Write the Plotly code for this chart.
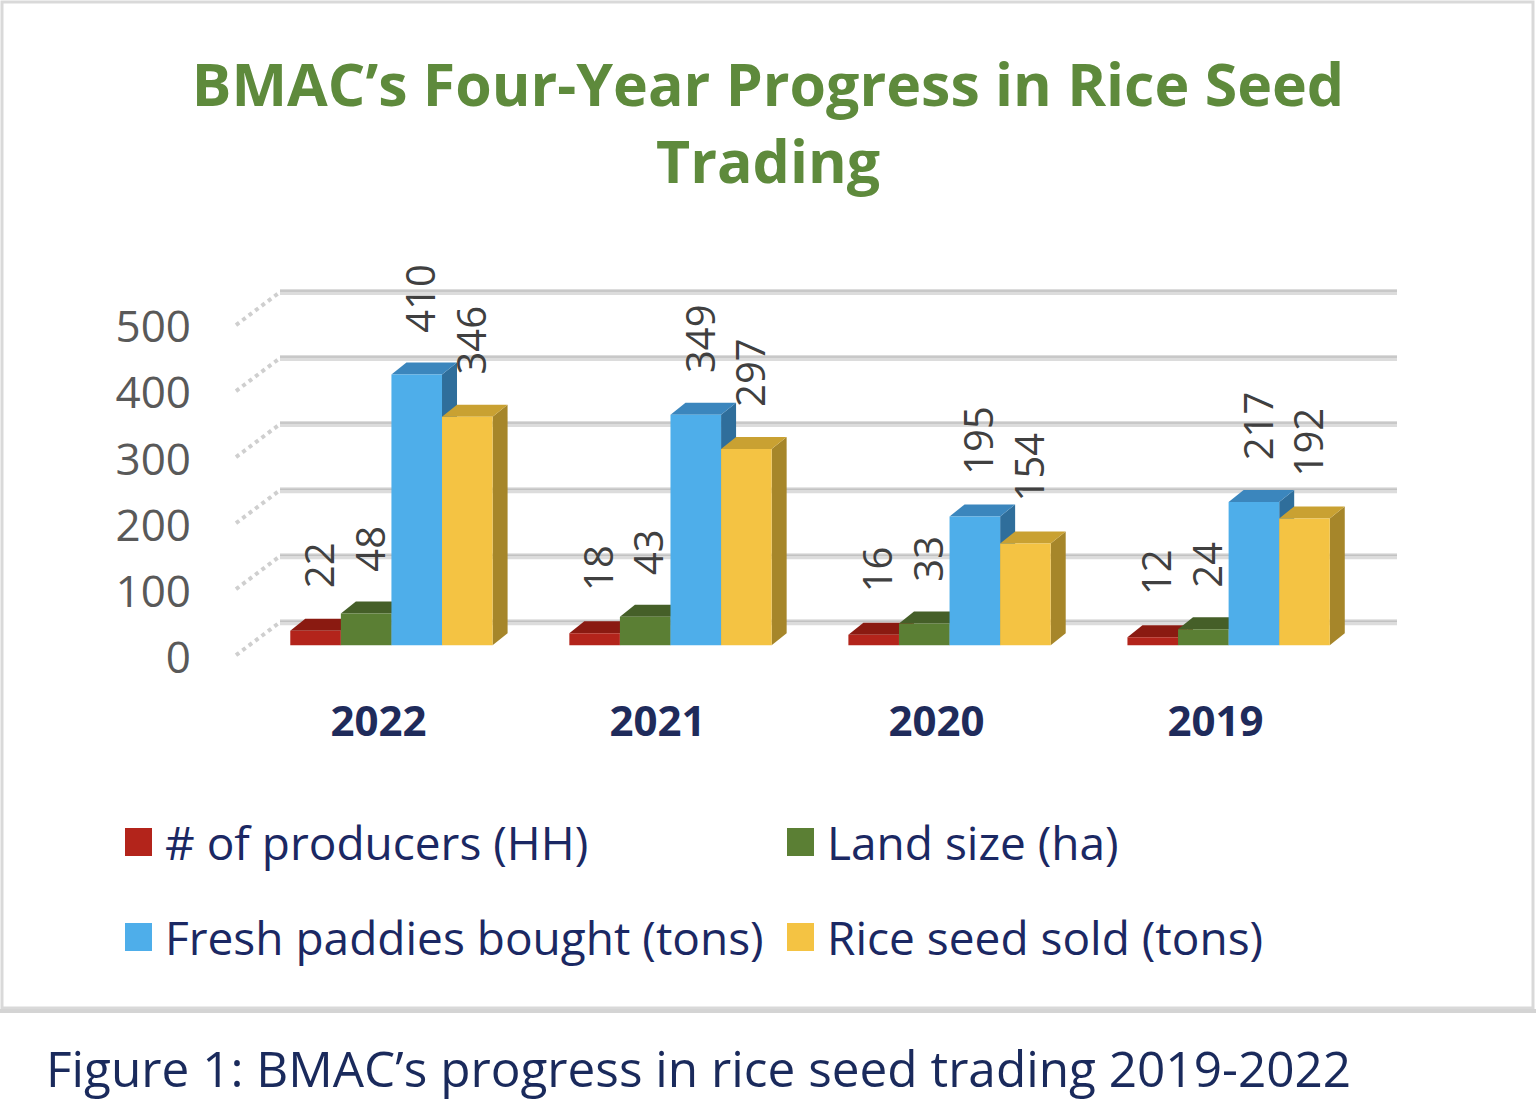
import plotly.graph_objects as go

# ---------------- data ----------------
categories = ["2022", "2021", "2020", "2019"]
series_names = ["# of producers (HH)", "Land size (ha)",
                "Fresh paddies bought (tons)", "Rice seed sold (tons)"]
producers = [22, 18, 16, 12]
land_size = [48, 43, 33, 24]
fresh_paddies = [410, 349, 195, 217]
rice_seed = [346, 297, 154, 192]
y_ticks = [0, 100, 200, 300, 400, 500]

series_values = [producers, land_size, fresh_paddies, rice_seed]

# ---------------- style ----------------
front_colors = ["#b3241b", "#5b7f34", "#4eaeea", "#f4c343"]
top_colors = ["#8a1a11", "#455f28", "#3b86bd", "#c9a132"]
side_colors = ["#7a160f", "#3b5322", "#2f6e9b", "#a6862a"]
FONT = "Open Sans"

W, H = 1536, 1106
L, R, T, B = 224, 126, 249, 441
XR = [-0.6, 3.65]
YR = [-30, 600]
PW = W - L - R
PH = H - T - B
BARGAP = 0.275
NS = len(series_values)
BW = (1 - BARGAP) / NS


def xd(px):
    return XR[0] + (px - L) / PW * (XR[1] - XR[0])


def dxd(dpx):
    return dpx / PW * (XR[1] - XR[0])


def dyd(dpx):
    return dpx / PH * (YR[1] - YR[0])


def xp(px):
    return (px - L) / PW


def yp(py):
    return (H - B - py) / PH


DX = dxd(15)
DY = dyd(12)
xs = list(range(len(categories)))

fig = go.Figure()
for j, (name, vals) in enumerate(zip(series_names, series_values)):
    fig.add_trace(go.Bar(
        x=xs, y=vals, name=name,
        marker=dict(color=front_colors[j], line=dict(width=0)),
        showlegend=False, hoverinfo="x+y+name",
    ))

shapes = []
# back wall gridlines + floor diagonals
for v in y_ticks:
    yb = v + dyd(23)
    shapes.append(dict(type="line", xref="x", yref="y", layer="below",
                       x0=xd(280), x1=xd(1397), y0=yb, y1=yb,
                       line=dict(color="#dcdcdc", width=6)))
    shapes.append(dict(type="line", xref="x", yref="y", layer="below",
                       x0=xd(280), x1=xd(1397), y0=yb + dyd(1), y1=yb + dyd(1),
                       line=dict(color="#c2c2c2", width=1.5)))
    shapes.append(dict(type="line", xref="x", yref="y", layer="below",
                       x0=xd(236), x1=xd(280), y0=v - dyd(10), y1=yb,
                       line=dict(color="#cfcfcf", width=4, dash="dot")))

# 3D depth faces of bars
for i in xs:
    for j, vals in enumerate(series_values):
        v = vals[i]
        xl = i + (j - (NS - 1) / 2) * BW - BW / 2
        xr = xl + BW
        side = (f"M{xr},0 L{xr},{v} L{xr + DX},{v + DY} "
                f"L{xr + DX},{DY} Z")
        top = (f"M{xl},{v} L{xr},{v} L{xr + DX},{v + DY} "
               f"L{xl + DX},{v + DY} Z")
        shapes.append(dict(type="path", path=side, xref="x", yref="y",
                           layer="between", fillcolor=side_colors[j],
                           line=dict(width=0)))
        shapes.append(dict(type="path", path=top, xref="x", yref="y",
                           layer="between", fillcolor=top_colors[j],
                           line=dict(width=0)))

# chart frame
shapes.append(dict(type="rect", xref="paper", yref="paper",
                   x0=xp(2), x1=xp(1533), y0=yp(1008), y1=yp(2),
                   line=dict(color="#d9d9d9", width=3), layer="below"))
shapes.append(dict(type="line", xref="paper", yref="paper",
                   x0=xp(0), x1=xp(1536), y0=yp(1011), y1=yp(1011),
                   line=dict(color="#d4d4d4", width=4), layer="below"))

annotations = []
# data labels
for i in xs:
    for j, vals in enumerate(series_values):
        v = vals[i]
        xc = i + (j - (NS - 1) / 2) * BW
        annotations.append(dict(
            x=xc, y=v, xref="x", yref="y", text=str(v), textangle=-90,
            showarrow=False, yanchor="bottom", xanchor="center",
            yshift=40, xshift=3,
            font=dict(family=FONT, size=40, color="#404040")))

# manual legend (large square symbols)
leg_pos = [(125, 842), (787, 842), (125, 937), (787, 937)]
for j, name in enumerate(series_names):
    lx, ly = leg_pos[j]
    shapes.append(dict(type="rect", xref="paper", yref="paper",
                       x0=xp(lx), x1=xp(lx + 27), y0=yp(ly + 14), y1=yp(ly - 14),
                       fillcolor=front_colors[j], line=dict(width=0)))
    annotations.append(dict(
        x=xp(lx + 38), y=yp(ly), xref="paper", yref="paper", text=name,
        showarrow=False, xanchor="left", yanchor="middle",
        font=dict(family=FONT, size=46, color="#1b2863")))

# caption
annotations.append(dict(
    x=xp(44), y=yp(1068), xref="paper", yref="paper",
    text="Figure 1: BMAC’s progress in rice seed trading 2019-2022",
    showarrow=False, xanchor="left", yanchor="middle",
    font=dict(family=FONT, size=49.5, color="#1a2a5c")))

fig.update_layout(
    width=W, height=H, autosize=False,
    margin=dict(l=L, r=R, t=T, b=B),
    paper_bgcolor="white", plot_bgcolor="rgba(0,0,0,0)",
    barmode="group", bargap=BARGAP, bargroupgap=0,
    title=dict(text="BMAC’s Four-Year Progress in Rice Seed<br>Trading",
               x=0.5, xref="container", xanchor="center",
               y=1 - 106 / H, yref="container", yanchor="middle",
               font=dict(family=FONT, size=59, color="#5e8a3c", weight="bold")),
    xaxis=dict(range=XR, tickvals=xs, ticktext=categories,
               showgrid=False, zeroline=False, showline=False, ticks="",
               ticklabelshift=-13, ticklabelstandoff=28,
               tickfont=dict(family=FONT, size=42, color="#1f2b5b", weight="bold")),
    yaxis=dict(range=YR, tickvals=y_ticks, showgrid=False, zeroline=False,
               showline=False, ticks="", ticklabelshift=12, ticklabelstandoff=32,
               tickfont=dict(family=FONT, size=44, color="#595959")),
    shapes=shapes, annotations=annotations, showlegend=False,
)

fig.write_html("out.html", config={"displayModeBar": False},
               post_script="document.body.style.margin='0px';")
